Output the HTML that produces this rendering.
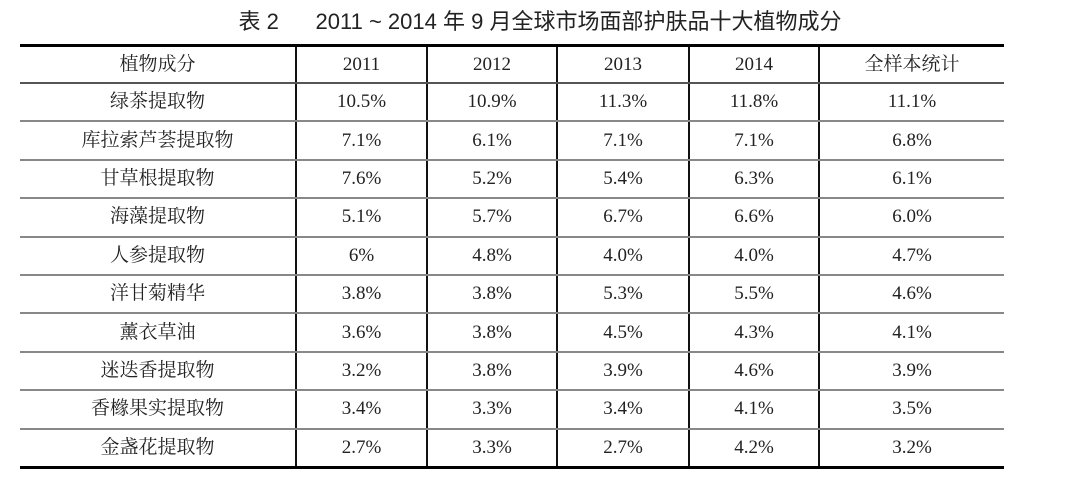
<!DOCTYPE html>
<html><head><meta charset="utf-8"><style>
body{margin:0;width:1080px;height:502px;background:#fff;position:relative;overflow:hidden;color:#222;}
#title{position:absolute;left:0;width:1080px;top:4px;text-align:center;font:22px "Liberation Sans","Noto Sans CJK SC",sans-serif;white-space:pre;}
#tbl{position:absolute;left:20px;top:44px;border-collapse:collapse;font:19px "Liberation Serif","Noto Serif CJK SC",serif;}
#tbl td{text-align:center;padding:0;height:36.4px;line-height:20px;border-bottom:2px solid #888;border-left:2px solid #111;}
#tbl td:first-child{border-left:none;}
#tbl tr:first-child td{border-top:3px solid #000;height:35px;border-bottom:2px solid #555;}
#tbl tr:last-child td{border-bottom:3px solid #000;}
</style></head><body>
<div id="title">表 2      2011 ~ 2014 年 9 月全球市场面部护肤品十大植物成分</div>
<table id="tbl">
<colgroup><col style="width:276px"><col style="width:131px"><col style="width:130px"><col style="width:132px"><col style="width:130px"><col style="width:185px"></colgroup>
<tbody id="tb"></tbody></table>
<script>
const headers=["植物成分","2011","2012","2013","2014","全样本统计"];
const names=["绿茶提取物","库拉索芦荟提取物","甘草根提取物","海藻提取物","人参提取物","洋甘菊精华","薰衣草油","迷迭香提取物","香橼果实提取物","金盏花提取物"];
const v2011=["10.5%","7.1%","7.6%","5.1%","6%","3.8%","3.6%","3.2%","3.4%","2.7%"];
const v2012=["10.9%","6.1%","5.2%","5.7%","4.8%","3.8%","3.8%","3.8%","3.3%","3.3%"];
const v2013=["11.3%","7.1%","5.4%","6.7%","4.0%","5.3%","4.5%","3.9%","3.4%","2.7%"];
const v2014=["11.8%","7.1%","6.3%","6.6%","4.0%","5.5%","4.3%","4.6%","4.1%","4.2%"];
const vAll=["11.1%","6.8%","6.1%","6.0%","4.7%","4.6%","4.1%","3.9%","3.5%","3.2%"];
const tb=document.getElementById('tb');
function row(cells,name){
  const tr=document.createElement('tr');
  
  
  cells.forEach(c=>{const td=document.createElement('td');td.textContent=c;
    
    
    tr.appendChild(td);});
  tb.appendChild(tr);
}
row(headers,'header-row');
names.forEach((n,i)=>row([n,v2011[i],v2012[i],v2013[i],v2014[i],vAll[i]],'data-row'));
</script>
</body></html>
